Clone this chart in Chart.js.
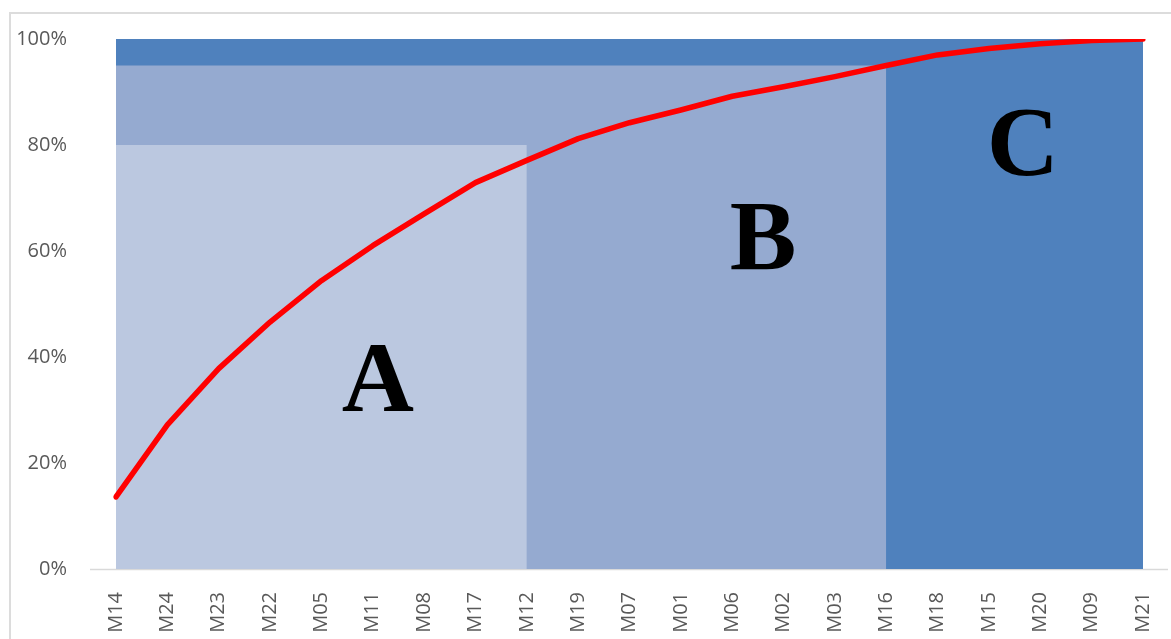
<!DOCTYPE html>
<html>
<head>
<meta charset="utf-8">
<script src="https://cdn.jsdelivr.net/npm/chart.js@4/dist/chart.umd.min.js"></script>
<style>
  html, body { margin: 0; padding: 0; background: #fff; overflow: hidden; }
  #frame { position: absolute; left: 9px; top: 12px; width: 1300px; height: 800px; border: 2px solid #dcdcdc; }
  #wrap { position: absolute; left: 0; top: 0; width: 1171px; height: 639px; }
</style>
</head>
<body>
<div id="frame"></div>
<div id="wrap"><canvas id="chart" width="1171" height="639"></canvas></div>
<script>
// items sorted by contribution, cumulative share in %
const items = ['M14', 'M24', 'M23', 'M22', 'M05', 'M11', 'M08', 'M17', 'M12', 'M19', 'M07',
               'M01', 'M06', 'M02', 'M03', 'M16', 'M18', 'M15', 'M20', 'M09', 'M21'];
const cumulative = [13.6, 27.2, 37.8, 46.6, 54.4, 61.0, 67.0, 72.9, 77.1, 81.2, 84.2,
                    86.6, 89.2, 91.0, 92.9, 95.0, 97.0, 98.2, 99.1, 99.7, 100];
const yTicks = [0, 20, 40, 60, 80, 100];

// ABC classes: height of the band and the last item it covers
const classNames = ['A', 'B', 'C'];
const classLimit = [80, 95, 100];
const classLastItem = ['M12', 'M16', 'M21'];
const classColors = ['#bbc8e0', '#95aad0', '#4f81bd'];
// where each class letter sits (item index, % value of the baseline)
const letterX = [5.1, 12.6, 17.66];
const letterY = [29.8, 56.6, 74.3];

function band(limit, lastItem) {
  const end = items.indexOf(lastItem);
  return items.map((_, i) => (i <= end ? limit : null));
}

const bandSets = classNames.map((name, k) => ({
  label: name,
  data: band(classLimit[k], classLastItem[k]),
  backgroundColor: classColors[k],
  borderWidth: 0,
  pointRadius: 0,
  fill: 'origin',
  spanGaps: false
}));

// baseline under the plot, running into the label gutter
const baseline = {
  id: 'baseline',
  beforeDatasetsDraw(chart) {
    const ctx = chart.ctx;
    const y = chart.scales.y.getPixelForValue(0);
    ctx.save();
    ctx.strokeStyle = '#d9d9d9';
    ctx.lineWidth = 1.5;
    ctx.beginPath();
    ctx.moveTo(90, y + 0.5);
    ctx.lineTo(1168, y + 0.5);
    ctx.stroke();
    ctx.restore();
  }
};

const classLetters = {
  id: 'classLetters',
  afterDatasetsDraw(chart) {
    const ctx = chart.ctx;
    const xs = chart.scales.x, ys = chart.scales.y;
    ctx.save();
    ctx.fillStyle = '#000';
    ctx.font = 'bold 100px "Liberation Serif"';
    ctx.textAlign = 'center';
    ctx.textBaseline = 'alphabetic';
    classNames.forEach((name, k) => {
      ctx.fillText(name, xs.getPixelForValue(letterX[k]), ys.getPixelForValue(letterY[k]));
    });
    ctx.restore();
  }
};

new Chart(document.getElementById('chart'), {
  type: 'line',
  data: {
    labels: items,
    datasets: [
      {
        label: 'Cumulative',
        data: cumulative,
        borderColor: '#ff0000',
        borderWidth: 5.5,
        borderCapStyle: 'round',
        borderJoinStyle: 'round',
        pointRadius: 0,
        tension: 0,
        fill: false
      },
      ...bandSets
    ]
  },
  options: {
    responsive: false,
    animation: false,
    layout: { padding: { top: 39, right: 28, left: 0, bottom: 0 } },
    plugins: { legend: { display: false }, tooltip: { enabled: false } },
    scales: {
      x: {
        offset: false,
        grid: { display: false },
        border: { display: false },
        afterFit(scale) {
          scale.height = 70;
          scale.paddingLeft = 0;
          scale.paddingRight = 0;
        },
        ticks: {
          autoSkip: false,
          minRotation: 90,
          maxRotation: 90,
          padding: 15,
          color: '#595959',
          font: { family: '"Open Sans"', size: 20 }
        }
      },
      y: {
        min: 0,
        max: 100,
        grid: { display: false, drawTicks: false },
        border: { display: false },
        afterFit(scale) {
          scale.width = 116;
          scale.paddingTop = 0;
          scale.paddingBottom = 0;
        },
        afterBuildTicks(scale) { scale.ticks = yTicks.map(v => ({ value: v })); },
        ticks: {
          padding: 49,
          color: '#595959',
          font: { family: '"Open Sans"', size: 20 },
          callback: v => v + '%'
        }
      }
    }
  },
  plugins: [baseline, classLetters]
});
</script>
</body>
</html>
